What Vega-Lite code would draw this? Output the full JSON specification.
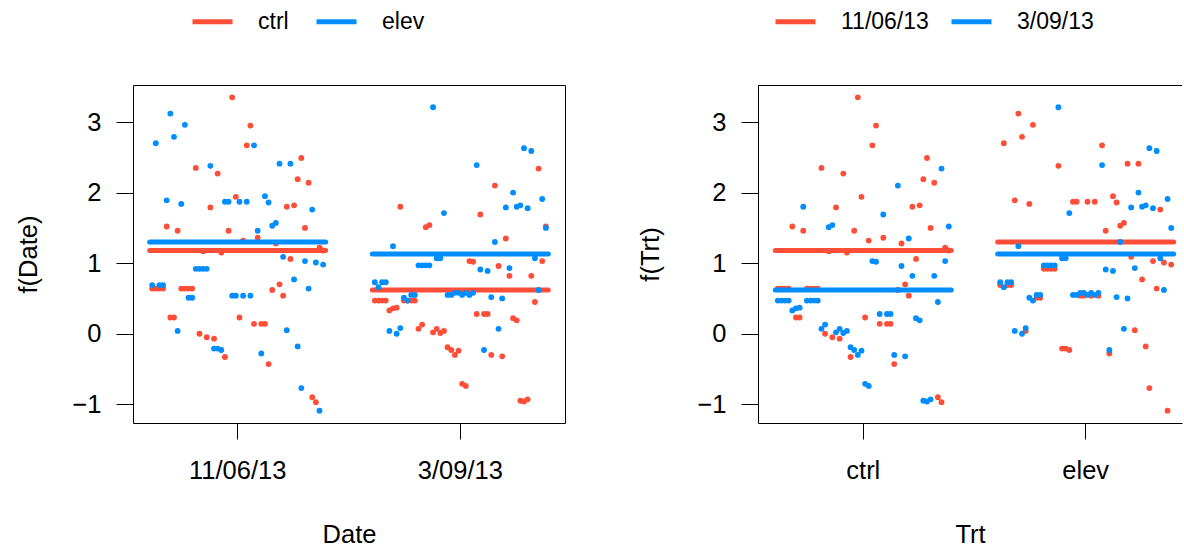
{
  "$schema": "https://vega.github.io/schema/vega-lite/v6.json",
  "padding": {"left": 16, "top": -2, "right": 0, "bottom": 0},
  "background": "white",
  "spacing": 72,
  "config": {
    "font": "Liberation Sans",
    "view": {"stroke": null},
    "axis": {
      "labelFont": "Liberation Sans",
      "titleFont": "Liberation Sans",
      "labelFontSize": 25.5,
      "titleFontSize": 25.5,
      "titleFontWeight": "normal",
      "labelColor": "#000",
      "titleColor": "#000",
      "tickColor": "#000",
      "domainColor": "#000",
      "tickWidth": 1,
      "domainWidth": 1,
      "grid": false,
      "labelOverlap": false
    },
    "legend": {
      "labelFont": "Liberation Sans",
      "labelFontSize": 23,
      "labelColor": "#000",
      "orient": "none",
      "legendY": -86,
      "direction": "horizontal",
      "columns": 2,
      "gridAlign": "all",
      "title": null,
      "padding": 0,
      "symbolType": "stroke",
      "symbolSize": 1600,
      "symbolStrokeWidth": 5,
      "labelOffset": 23
    }
  },
  "datasets": {
    "obs": [
      {"Date": "11/06/13", "Trt": "ctrl", "i": 0, "y": 0.64},
      {"Date": "11/06/13", "Trt": "ctrl", "i": 1, "y": 0.64},
      {"Date": "11/06/13", "Trt": "ctrl", "i": 2, "y": 0.64},
      {"Date": "11/06/13", "Trt": "ctrl", "i": 3, "y": 0.64},
      {"Date": "11/06/13", "Trt": "ctrl", "i": 4, "y": 1.52},
      {"Date": "11/06/13", "Trt": "ctrl", "i": 5, "y": 0.23},
      {"Date": "11/06/13", "Trt": "ctrl", "i": 6, "y": 0.23},
      {"Date": "11/06/13", "Trt": "ctrl", "i": 7, "y": 1.46},
      {"Date": "11/06/13", "Trt": "ctrl", "i": 8, "y": 0.64},
      {"Date": "11/06/13", "Trt": "ctrl", "i": 9, "y": 0.64},
      {"Date": "11/06/13", "Trt": "ctrl", "i": 10, "y": 0.64},
      {"Date": "11/06/13", "Trt": "ctrl", "i": 11, "y": 0.64},
      {"Date": "11/06/13", "Trt": "ctrl", "i": 12, "y": 2.35},
      {"Date": "11/06/13", "Trt": "ctrl", "i": 13, "y": 0.0},
      {"Date": "11/06/13", "Trt": "ctrl", "i": 14, "y": 1.17},
      {"Date": "11/06/13", "Trt": "ctrl", "i": 15, "y": -0.05},
      {"Date": "11/06/13", "Trt": "ctrl", "i": 16, "y": 1.79},
      {"Date": "11/06/13", "Trt": "ctrl", "i": 17, "y": -0.07},
      {"Date": "11/06/13", "Trt": "ctrl", "i": 18, "y": 2.27},
      {"Date": "11/06/13", "Trt": "ctrl", "i": 19, "y": 1.15},
      {"Date": "11/06/13", "Trt": "ctrl", "i": 20, "y": -0.33},
      {"Date": "11/06/13", "Trt": "ctrl", "i": 21, "y": 1.46},
      {"Date": "11/06/13", "Trt": "ctrl", "i": 22, "y": 3.35},
      {"Date": "11/06/13", "Trt": "ctrl", "i": 23, "y": 1.94},
      {"Date": "11/06/13", "Trt": "ctrl", "i": 24, "y": 0.23},
      {"Date": "11/06/13", "Trt": "ctrl", "i": 25, "y": 1.32},
      {"Date": "11/06/13", "Trt": "ctrl", "i": 26, "y": 2.67},
      {"Date": "11/06/13", "Trt": "ctrl", "i": 27, "y": 2.95},
      {"Date": "11/06/13", "Trt": "ctrl", "i": 28, "y": 0.14},
      {"Date": "11/06/13", "Trt": "ctrl", "i": 29, "y": 1.36},
      {"Date": "11/06/13", "Trt": "ctrl", "i": 30, "y": 0.14},
      {"Date": "11/06/13", "Trt": "ctrl", "i": 31, "y": 0.14},
      {"Date": "11/06/13", "Trt": "ctrl", "i": 32, "y": -0.43},
      {"Date": "11/06/13", "Trt": "ctrl", "i": 33, "y": 0.62},
      {"Date": "11/06/13", "Trt": "ctrl", "i": 34, "y": 1.28},
      {"Date": "11/06/13", "Trt": "ctrl", "i": 35, "y": 0.70},
      {"Date": "11/06/13", "Trt": "ctrl", "i": 36, "y": 0.54},
      {"Date": "11/06/13", "Trt": "ctrl", "i": 37, "y": 1.80},
      {"Date": "11/06/13", "Trt": "ctrl", "i": 38, "y": 1.06},
      {"Date": "11/06/13", "Trt": "ctrl", "i": 39, "y": 1.82},
      {"Date": "11/06/13", "Trt": "ctrl", "i": 40, "y": 2.19},
      {"Date": "11/06/13", "Trt": "ctrl", "i": 41, "y": 2.49},
      {"Date": "11/06/13", "Trt": "ctrl", "i": 42, "y": 1.50},
      {"Date": "11/06/13", "Trt": "ctrl", "i": 43, "y": 2.14},
      {"Date": "11/06/13", "Trt": "ctrl", "i": 44, "y": -0.90},
      {"Date": "11/06/13", "Trt": "ctrl", "i": 45, "y": -0.97},
      {"Date": "11/06/13", "Trt": "ctrl", "i": 46, "y": 1.22},
      {"Date": "11/06/13", "Trt": "ctrl", "i": 47, "y": 1.18},

      {"Date": "3/09/13", "Trt": "ctrl", "i": 0, "y": 0.47},
      {"Date": "3/09/13", "Trt": "ctrl", "i": 1, "y": 0.47},
      {"Date": "3/09/13", "Trt": "ctrl", "i": 2, "y": 0.47},
      {"Date": "3/09/13", "Trt": "ctrl", "i": 3, "y": 0.47},
      {"Date": "3/09/13", "Trt": "ctrl", "i": 4, "y": 0.33},
      {"Date": "3/09/13", "Trt": "ctrl", "i": 5, "y": 0.36},
      {"Date": "3/09/13", "Trt": "ctrl", "i": 6, "y": 0.37},
      {"Date": "3/09/13", "Trt": "ctrl", "i": 7, "y": 1.80},
      {"Date": "3/09/13", "Trt": "ctrl", "i": 8, "y": 0.47},
      {"Date": "3/09/13", "Trt": "ctrl", "i": 9, "y": 0.47},
      {"Date": "3/09/13", "Trt": "ctrl", "i": 10, "y": 0.47},
      {"Date": "3/09/13", "Trt": "ctrl", "i": 11, "y": 0.47},
      {"Date": "3/09/13", "Trt": "ctrl", "i": 12, "y": 0.07},
      {"Date": "3/09/13", "Trt": "ctrl", "i": 13, "y": 0.13},
      {"Date": "3/09/13", "Trt": "ctrl", "i": 14, "y": 1.51},
      {"Date": "3/09/13", "Trt": "ctrl", "i": 15, "y": 1.54},
      {"Date": "3/09/13", "Trt": "ctrl", "i": 16, "y": 0.02},
      {"Date": "3/09/13", "Trt": "ctrl", "i": 17, "y": 0.07},
      {"Date": "3/09/13", "Trt": "ctrl", "i": 18, "y": 0.01},
      {"Date": "3/09/13", "Trt": "ctrl", "i": 19, "y": 0.04},
      {"Date": "3/09/13", "Trt": "ctrl", "i": 20, "y": -0.19},
      {"Date": "3/09/13", "Trt": "ctrl", "i": 21, "y": -0.23},
      {"Date": "3/09/13", "Trt": "ctrl", "i": 22, "y": -0.30},
      {"Date": "3/09/13", "Trt": "ctrl", "i": 23, "y": -0.24},
      {"Date": "3/09/13", "Trt": "ctrl", "i": 24, "y": -0.71},
      {"Date": "3/09/13", "Trt": "ctrl", "i": 25, "y": -0.74},
      {"Date": "3/09/13", "Trt": "ctrl", "i": 26, "y": 1.03},
      {"Date": "3/09/13", "Trt": "ctrl", "i": 27, "y": 1.02},
      {"Date": "3/09/13", "Trt": "ctrl", "i": 28, "y": 0.28},
      {"Date": "3/09/13", "Trt": "ctrl", "i": 29, "y": 1.69},
      {"Date": "3/09/13", "Trt": "ctrl", "i": 30, "y": 0.28},
      {"Date": "3/09/13", "Trt": "ctrl", "i": 31, "y": 0.28},
      {"Date": "3/09/13", "Trt": "ctrl", "i": 32, "y": -0.30},
      {"Date": "3/09/13", "Trt": "ctrl", "i": 33, "y": 2.10},
      {"Date": "3/09/13", "Trt": "ctrl", "i": 34, "y": 0.96},
      {"Date": "3/09/13", "Trt": "ctrl", "i": 35, "y": -0.32},
      {"Date": "3/09/13", "Trt": "ctrl", "i": 36, "y": 1.35},
      {"Date": "3/09/13", "Trt": "ctrl", "i": 37, "y": 0.82},
      {"Date": "3/09/13", "Trt": "ctrl", "i": 38, "y": 0.22},
      {"Date": "3/09/13", "Trt": "ctrl", "i": 39, "y": 0.19},
      {"Date": "3/09/13", "Trt": "ctrl", "i": 40, "y": -0.95},
      {"Date": "3/09/13", "Trt": "ctrl", "i": 41, "y": -0.96},
      {"Date": "3/09/13", "Trt": "ctrl", "i": 42, "y": -0.93},
      {"Date": "3/09/13", "Trt": "ctrl", "i": 43, "y": 0.82},
      {"Date": "3/09/13", "Trt": "ctrl", "i": 44, "y": 0.45},
      {"Date": "3/09/13", "Trt": "ctrl", "i": 45, "y": 2.34},
      {"Date": "3/09/13", "Trt": "ctrl", "i": 46, "y": 1.03},
      {"Date": "3/09/13", "Trt": "ctrl", "i": 47, "y": 1.52},

      {"Date": "11/06/13", "Trt": "elev", "i": 0, "y": 0.69},
      {"Date": "11/06/13", "Trt": "elev", "i": 1, "y": 2.70},
      {"Date": "11/06/13", "Trt": "elev", "i": 2, "y": 0.69},
      {"Date": "11/06/13", "Trt": "elev", "i": 3, "y": 0.69},
      {"Date": "11/06/13", "Trt": "elev", "i": 4, "y": 1.89},
      {"Date": "11/06/13", "Trt": "elev", "i": 5, "y": 3.12},
      {"Date": "11/06/13", "Trt": "elev", "i": 6, "y": 2.79},
      {"Date": "11/06/13", "Trt": "elev", "i": 7, "y": 0.04},
      {"Date": "11/06/13", "Trt": "elev", "i": 8, "y": 1.84},
      {"Date": "11/06/13", "Trt": "elev", "i": 9, "y": 2.96},
      {"Date": "11/06/13", "Trt": "elev", "i": 10, "y": 0.51},
      {"Date": "11/06/13", "Trt": "elev", "i": 11, "y": 0.51},
      {"Date": "11/06/13", "Trt": "elev", "i": 12, "y": 0.92},
      {"Date": "11/06/13", "Trt": "elev", "i": 13, "y": 0.92},
      {"Date": "11/06/13", "Trt": "elev", "i": 14, "y": 0.92},
      {"Date": "11/06/13", "Trt": "elev", "i": 15, "y": 0.92},
      {"Date": "11/06/13", "Trt": "elev", "i": 16, "y": 2.38},
      {"Date": "11/06/13", "Trt": "elev", "i": 17, "y": -0.21},
      {"Date": "11/06/13", "Trt": "elev", "i": 18, "y": -0.21},
      {"Date": "11/06/13", "Trt": "elev", "i": 19, "y": -0.23},
      {"Date": "11/06/13", "Trt": "elev", "i": 20, "y": 1.87},
      {"Date": "11/06/13", "Trt": "elev", "i": 21, "y": 1.87},
      {"Date": "11/06/13", "Trt": "elev", "i": 22, "y": 0.54},
      {"Date": "11/06/13", "Trt": "elev", "i": 23, "y": 0.54},
      {"Date": "11/06/13", "Trt": "elev", "i": 24, "y": 1.87},
      {"Date": "11/06/13", "Trt": "elev", "i": 25, "y": 0.54},
      {"Date": "11/06/13", "Trt": "elev", "i": 26, "y": 1.87},
      {"Date": "11/06/13", "Trt": "elev", "i": 27, "y": 0.54},
      {"Date": "11/06/13", "Trt": "elev", "i": 28, "y": 2.67},
      {"Date": "11/06/13", "Trt": "elev", "i": 29, "y": 1.46},
      {"Date": "11/06/13", "Trt": "elev", "i": 30, "y": -0.28},
      {"Date": "11/06/13", "Trt": "elev", "i": 31, "y": 1.95},
      {"Date": "11/06/13", "Trt": "elev", "i": 32, "y": 1.86},
      {"Date": "11/06/13", "Trt": "elev", "i": 33, "y": 1.53},
      {"Date": "11/06/13", "Trt": "elev", "i": 34, "y": 1.57},
      {"Date": "11/06/13", "Trt": "elev", "i": 35, "y": 2.41},
      {"Date": "11/06/13", "Trt": "elev", "i": 36, "y": 1.09},
      {"Date": "11/06/13", "Trt": "elev", "i": 37, "y": 0.05},
      {"Date": "11/06/13", "Trt": "elev", "i": 38, "y": 2.41},
      {"Date": "11/06/13", "Trt": "elev", "i": 39, "y": 0.77},
      {"Date": "11/06/13", "Trt": "elev", "i": 40, "y": -0.18},
      {"Date": "11/06/13", "Trt": "elev", "i": 41, "y": -0.77},
      {"Date": "11/06/13", "Trt": "elev", "i": 42, "y": 1.03},
      {"Date": "11/06/13", "Trt": "elev", "i": 43, "y": 0.64},
      {"Date": "11/06/13", "Trt": "elev", "i": 44, "y": 1.76},
      {"Date": "11/06/13", "Trt": "elev", "i": 45, "y": 1.01},
      {"Date": "11/06/13", "Trt": "elev", "i": 46, "y": -1.09},
      {"Date": "11/06/13", "Trt": "elev", "i": 47, "y": 0.98},

      {"Date": "3/09/13", "Trt": "elev", "i": 0, "y": 0.73},
      {"Date": "3/09/13", "Trt": "elev", "i": 1, "y": 0.66},
      {"Date": "3/09/13", "Trt": "elev", "i": 2, "y": 0.73},
      {"Date": "3/09/13", "Trt": "elev", "i": 3, "y": 0.73},
      {"Date": "3/09/13", "Trt": "elev", "i": 4, "y": 0.04},
      {"Date": "3/09/13", "Trt": "elev", "i": 5, "y": 1.24},
      {"Date": "3/09/13", "Trt": "elev", "i": 6, "y": 0.00},
      {"Date": "3/09/13", "Trt": "elev", "i": 7, "y": 0.08},
      {"Date": "3/09/13", "Trt": "elev", "i": 8, "y": 0.51},
      {"Date": "3/09/13", "Trt": "elev", "i": 9, "y": 0.47},
      {"Date": "3/09/13", "Trt": "elev", "i": 10, "y": 0.55},
      {"Date": "3/09/13", "Trt": "elev", "i": 11, "y": 0.55},
      {"Date": "3/09/13", "Trt": "elev", "i": 12, "y": 0.97},
      {"Date": "3/09/13", "Trt": "elev", "i": 13, "y": 0.97},
      {"Date": "3/09/13", "Trt": "elev", "i": 14, "y": 0.97},
      {"Date": "3/09/13", "Trt": "elev", "i": 15, "y": 0.97},
      {"Date": "3/09/13", "Trt": "elev", "i": 16, "y": 3.21},
      {"Date": "3/09/13", "Trt": "elev", "i": 17, "y": 1.07},
      {"Date": "3/09/13", "Trt": "elev", "i": 18, "y": 1.07},
      {"Date": "3/09/13", "Trt": "elev", "i": 19, "y": 1.71},
      {"Date": "3/09/13", "Trt": "elev", "i": 20, "y": 0.55},
      {"Date": "3/09/13", "Trt": "elev", "i": 21, "y": 0.55},
      {"Date": "3/09/13", "Trt": "elev", "i": 22, "y": 0.58},
      {"Date": "3/09/13", "Trt": "elev", "i": 23, "y": 0.58},
      {"Date": "3/09/13", "Trt": "elev", "i": 24, "y": 0.55},
      {"Date": "3/09/13", "Trt": "elev", "i": 25, "y": 0.58},
      {"Date": "3/09/13", "Trt": "elev", "i": 26, "y": 0.55},
      {"Date": "3/09/13", "Trt": "elev", "i": 27, "y": 0.58},
      {"Date": "3/09/13", "Trt": "elev", "i": 28, "y": 2.39},
      {"Date": "3/09/13", "Trt": "elev", "i": 29, "y": 0.91},
      {"Date": "3/09/13", "Trt": "elev", "i": 30, "y": -0.23},
      {"Date": "3/09/13", "Trt": "elev", "i": 31, "y": 0.89},
      {"Date": "3/09/13", "Trt": "elev", "i": 32, "y": 0.52},
      {"Date": "3/09/13", "Trt": "elev", "i": 33, "y": 1.30},
      {"Date": "3/09/13", "Trt": "elev", "i": 34, "y": 0.07},
      {"Date": "3/09/13", "Trt": "elev", "i": 35, "y": 0.50},
      {"Date": "3/09/13", "Trt": "elev", "i": 36, "y": 1.79},
      {"Date": "3/09/13", "Trt": "elev", "i": 37, "y": 0.93},
      {"Date": "3/09/13", "Trt": "elev", "i": 38, "y": 2.00},
      {"Date": "3/09/13", "Trt": "elev", "i": 39, "y": 1.80},
      {"Date": "3/09/13", "Trt": "elev", "i": 40, "y": 1.82},
      {"Date": "3/09/13", "Trt": "elev", "i": 41, "y": 2.63},
      {"Date": "3/09/13", "Trt": "elev", "i": 42, "y": 1.78},
      {"Date": "3/09/13", "Trt": "elev", "i": 43, "y": 2.59},
      {"Date": "3/09/13", "Trt": "elev", "i": 44, "y": 1.07},
      {"Date": "3/09/13", "Trt": "elev", "i": 45, "y": 0.62},
      {"Date": "3/09/13", "Trt": "elev", "i": 46, "y": 1.91},
      {"Date": "3/09/13", "Trt": "elev", "i": 47, "y": 1.50}
    ],
    "fits": [
      {"Date": "11/06/13", "Trt": "ctrl", "fit": 1.18},
      {"Date": "3/09/13", "Trt": "ctrl", "fit": 0.62},
      {"Date": "11/06/13", "Trt": "elev", "fit": 1.30},
      {"Date": "3/09/13", "Trt": "elev", "fit": 1.13}
    ]
  },
  "hconcat": [
    {
      "width": 432,
      "height": 338,
      "view": {"stroke": "#000", "strokeWidth": 1},
      "layer": [
        {
          "data": {"name": "obs"},
          "transform": [{"filter": "datum.Trt === 'ctrl'"}],
          "mark": {"type": "circle", "size": 34, "opacity": 1},
          "encoding": {
            "x": {"field": "Date", "type": "nominal", "title": "Date",
                  "scale": {"type": "band", "domain": ["11/06/13", "3/09/13"], "paddingInner": 1, "paddingOuter": 0.47},
                  "axis": {"labelAngle": 0, "domain": false, "tickSize": 16, "labelPadding": 19, "titlePadding": 39}},
            "xOffset": {"field": "i", "type": "quantitative", "scale": {"domain": [0, 47], "range": [-85.5, 85.5]}},
            "y": {"field": "y", "type": "quantitative", "title": "f(Date)",
                  "scale": {"domain": [-1.265, 3.525], "nice": false, "zero": false},
                  "axis": {"values": [-1, 0, 1, 2, 3], "format": "d", "domain": false, "tickSize": 17, "labelPadding": 15, "titlePadding": 30}},
            "color": {"field": "Trt", "type": "nominal", "scale": {"domain": ["ctrl", "elev"], "range": ["#FF4E37", "#008DFF"]},
                      "legend": {"legendX": 57, "columnPadding": 5}}
          }
        },
        {
          "data": {"name": "fits"},
          "transform": [{"filter": "datum.Trt === 'ctrl'"}],
          "mark": {"type": "rule", "strokeWidth": 5, "strokeCap": "round", "xOffset": -88, "x2Offset": 88},
          "encoding": {
            "x": {"field": "Date", "type": "nominal", "title": "Date"},
            "x2": {"field": "Date"},
            "y": {"field": "fit", "type": "quantitative", "title": "f(Date)"},
            "color": {"field": "Trt", "type": "nominal", "legend": {"legendX": 57, "columnPadding": 5}}
          }
        },
        {
          "data": {"name": "obs"},
          "transform": [{"filter": "datum.Trt === 'elev'"}],
          "mark": {"type": "circle", "size": 34, "opacity": 1},
          "encoding": {
            "x": {"field": "Date", "type": "nominal", "title": "Date"},
            "xOffset": {"field": "i", "type": "quantitative"},
            "y": {"field": "y", "type": "quantitative", "title": "f(Date)"},
            "color": {"field": "Trt", "type": "nominal", "legend": {"legendX": 57, "columnPadding": 5}}
          }
        },
        {
          "data": {"name": "fits"},
          "transform": [{"filter": "datum.Trt === 'elev'"}],
          "mark": {"type": "rule", "strokeWidth": 5, "strokeCap": "round", "xOffset": -88, "x2Offset": 88},
          "encoding": {
            "x": {"field": "Date", "type": "nominal", "title": "Date"},
            "x2": {"field": "Date"},
            "y": {"field": "fit", "type": "quantitative", "title": "f(Date)"},
            "color": {"field": "Trt", "type": "nominal", "legend": {"legendX": 57, "columnPadding": 5}}
          }
        }
      ]
    },
    {
      "width": 424,
      "height": 338,
      "layer": [
        {
          "data": {"name": "obs"},
          "transform": [{"filter": "datum.Date === '11/06/13'"}],
          "mark": {"type": "circle", "size": 34, "opacity": 1},
          "encoding": {
            "x": {"field": "Trt", "type": "nominal", "title": "Trt",
                  "scale": {"type": "band", "domain": ["ctrl", "elev"], "paddingInner": 1, "paddingOuter": 0.4532, "align": 0.5223},
                  "axis": {"labelAngle": 0, "domain": true, "tickSize": 16, "labelPadding": 19, "titlePadding": 39}},
            "xOffset": {"field": "i", "type": "quantitative", "scale": {"domain": [0, 47], "range": [-85.5, 85.5]}},
            "y": {"field": "y", "type": "quantitative", "title": "f(Trt)",
                  "scale": {"domain": [-1.265, 3.525], "nice": false, "zero": false},
                  "axis": {"values": [-1, 0, 1, 2, 3], "format": "d", "domain": true, "tickSize": 17, "labelPadding": 15, "titlePadding": 33}},
            "color": {"field": "Date", "type": "nominal", "scale": {"domain": ["11/06/13", "3/09/13"], "range": ["#FF4E37", "#008DFF"]},
                      "legend": {"legendX": 15, "columnPadding": 12}}
          }
        },
        {
          "data": {"name": "fits"},
          "transform": [{"filter": "datum.Date === '11/06/13'"}],
          "mark": {"type": "rule", "strokeWidth": 5, "strokeCap": "round", "xOffset": -88, "x2Offset": 88},
          "encoding": {
            "x": {"field": "Trt", "type": "nominal", "title": "Trt"},
            "x2": {"field": "Trt"},
            "y": {"field": "fit", "type": "quantitative", "title": "f(Trt)"},
            "color": {"field": "Date", "type": "nominal", "legend": {"legendX": 15, "columnPadding": 12}}
          }
        },
        {
          "data": {"name": "obs"},
          "transform": [{"filter": "datum.Date === '3/09/13'"}],
          "mark": {"type": "circle", "size": 34, "opacity": 1},
          "encoding": {
            "x": {"field": "Trt", "type": "nominal", "title": "Trt"},
            "xOffset": {"field": "i", "type": "quantitative"},
            "y": {"field": "y", "type": "quantitative", "title": "f(Trt)"},
            "color": {"field": "Date", "type": "nominal", "legend": {"legendX": 15, "columnPadding": 12}}
          }
        },
        {
          "data": {"name": "fits"},
          "transform": [{"filter": "datum.Date === '3/09/13'"}],
          "mark": {"type": "rule", "strokeWidth": 5, "strokeCap": "round", "xOffset": -88, "x2Offset": 88},
          "encoding": {
            "x": {"field": "Trt", "type": "nominal", "title": "Trt"},
            "x2": {"field": "Trt"},
            "y": {"field": "fit", "type": "quantitative", "title": "f(Trt)"},
            "color": {"field": "Date", "type": "nominal", "legend": {"legendX": 15, "columnPadding": 12}}
          }
        },
        {
          "data": {"values": [{}]},
          "mark": {"type": "rule", "color": "#000", "strokeWidth": 1, "yOffset": 0.5},
          "encoding": {"y": {"datum": 3.525, "type": "quantitative"}}
        }
      ]
    }
  ],
  "resolve": {"scale": {"color": "independent"}, "legend": {"color": "independent"}}
}
